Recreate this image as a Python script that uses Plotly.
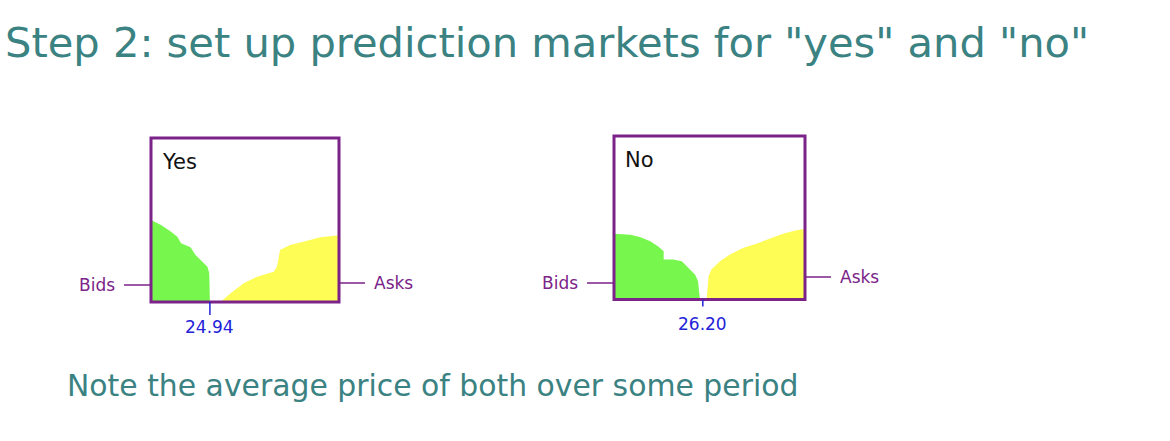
import plotly.graph_objects as go

W, H = 1170, 441

TITLE = 'Step 2: set up prediction markets for "yes" and "no"'
NOTE = "Note the average price of both over some period"

# order book depth for the "yes" market (price, cumulative size)
yes_bid_price = [24.00, 24.16, 24.32, 24.42, 24.48, 24.63, 24.71, 24.82, 24.90, 24.93, 24.94, 24.94]
yes_bid_depth = [50.0, 47.0, 42.9, 39.8, 35.8, 33.4, 28.7, 24.6, 21.5, 17.5, 4.0, 0.0]
yes_ask_price = [25.11, 25.27, 25.48, 25.69, 25.96, 26.01, 26.06, 26.22, 26.43, 26.70, 27.00]
yes_ask_depth = [0.0, 5.3, 11.4, 15.4, 18.5, 21.5, 31.7, 34.8, 36.8, 39.5, 40.7]
yes_avg = 24.94

# order book depth for the "no" market
no_bid_price = [25.27, 25.44, 25.54, 25.65, 25.73, 25.79, 25.79, 25.89, 25.98, 26.05, 26.12, 26.15, 26.17, 26.17]
no_bid_depth = [40.2, 39.6, 38.2, 35.6, 32.5, 29.5, 24.4, 24.4, 23.4, 19.3, 15.2, 11.2, 3.0, 0.0]
no_ask_price = [26.24, 26.25, 26.26, 26.29, 26.38, 26.48, 26.62, 26.76, 26.90, 27.04, 27.18, 27.27]
no_ask_depth = [0.0, 6.0, 14.2, 18.3, 23.4, 27.4, 31.5, 34.1, 37.0, 40.2, 42.3, 43.1]
no_avg = 26.20

TEAL = "#3b8282"
PURPLE = "#7b2389"
BLUE = "#2323d8"
GREEN = "#77f74d"
YELLOW = "#fdfd55"
FONT = "DejaVu Sans"


def px_x(x):
    return x / W


def px_y(y):
    return 1 - y / H


markets = [
    # box is (left, right, top, bottom) in screen px
    dict(name="Yes", bp=yes_bid_price, bd=yes_bid_depth, ap=yes_ask_price, ad=yes_ask_depth,
         avg=yes_avg, xr=[24.0, 27.0], box=(151, 339, 138, 302),
         bids_y=285, asks_y=283, tick_len=13, lab_y=327),
    dict(name="No", bp=no_bid_price, bd=no_bid_depth, ap=no_ask_price, ad=no_ask_depth,
         avg=no_avg, xr=[25.27, 27.27], box=(614, 805, 136, 299.5),
         bids_y=283, asks_y=277, tick_len=7, lab_y=323.5),
]

fig = go.Figure()
shapes, annotations = [], []

for i, m in enumerate(markets, start=1):
    xa = "x" if i == 1 else f"x{i}"
    ya = "y" if i == 1 else f"y{i}"
    left, right, top, bottom = m["box"]
    fig.add_trace(go.Scatter(x=m["bp"], y=m["bd"], xaxis=xa, yaxis=ya, mode="lines",
                             fill="tozeroy", fillcolor=GREEN, line=dict(width=0, color=GREEN),
                             hoverinfo="skip", showlegend=False))
    fig.add_trace(go.Scatter(x=m["ap"], y=m["ad"], xaxis=xa, yaxis=ya, mode="lines",
                             fill="tozeroy", fillcolor=YELLOW, line=dict(width=0, color=YELLOW),
                             hoverinfo="skip", showlegend=False))
    axis = dict(visible=False, fixedrange=True)
    fig.layout[f"xaxis{'' if i == 1 else i}"] = dict(
        axis, domain=[px_x(left), px_x(right)], range=m["xr"], anchor=ya)
    fig.layout[f"yaxis{'' if i == 1 else i}"] = dict(
        axis, domain=[px_y(bottom), px_y(top)], range=[0, 100], anchor=xa)

    bw, bh = right - left, bottom - top
    xd, yd = f"{xa} domain", f"{ya} domain"
    # frame
    shapes.append(dict(type="rect", xref=xd, yref=yd, x0=0, x1=1, y0=0, y1=1,
                       line=dict(color=PURPLE, width=3), layer="above"))
    # bids / asks pointers
    by = (bottom - m["bids_y"]) / bh
    ay = (bottom - m["asks_y"]) / bh
    shapes.append(dict(type="line", xref=xd, yref=yd, x0=-27 / bw, x1=0, y0=by, y1=by,
                       line=dict(color=PURPLE, width=1.5)))
    shapes.append(dict(type="line", xref=xd, yref=yd, x0=1, x1=1 + 26 / bw, y0=ay, y1=ay,
                       line=dict(color=PURPLE, width=1.5)))
    annotations.append(dict(xref=xd, yref=yd, x=-34 / bw, y=by, text="Bids", showarrow=False,
                            xanchor="right", yanchor="middle",
                            font=dict(family=FONT, size=17, color=PURPLE)))
    annotations.append(dict(xref=xd, yref=yd, x=1 + 33 / bw, y=ay, text="Asks", showarrow=False,
                            xanchor="left", yanchor="middle",
                            font=dict(family=FONT, size=17, color=PURPLE)))
    # average price tick
    shapes.append(dict(type="line", xref=xa, yref=yd, x0=m["avg"], x1=m["avg"],
                       y0=0, y1=-m["tick_len"] / bh, line=dict(color=BLUE, width=1.5)))
    annotations.append(dict(xref=xa, yref="paper", x=m["avg"], y=px_y(m["lab_y"]),
                            text=f"{m['avg']:.2f}", showarrow=False, xanchor="center",
                            yanchor="middle", font=dict(family=FONT, size=17, color=BLUE)))
    # market name
    annotations.append(dict(xref=xd, yref=yd, x=9 / bw, y=1 - 24 / bh, text=m["name"],
                            showarrow=False, xanchor="left", yanchor="middle",
                            font=dict(family=FONT, size=21, color="#111111")))

annotations.append(dict(xref="paper", yref="paper", x=px_x(3), y=px_y(42), text=TITLE,
                        showarrow=False, xanchor="left", yanchor="middle",
                        font=dict(family=FONT, size=41.6, color=TEAL)))
annotations.append(dict(xref="paper", yref="paper", x=px_x(65), y=px_y(385), text=NOTE,
                        showarrow=False, xanchor="left", yanchor="middle",
                        font=dict(family=FONT, size=29.85, color=TEAL)))

fig.update_layout(width=W, height=H, margin=dict(l=0, r=0, t=0, b=0),
                  paper_bgcolor="white", plot_bgcolor="white",
                  shapes=shapes, annotations=annotations, showlegend=False)

# drop the default 8px page margin so the figure sits at the window's corner
fig.write_html("out.html", config={"displayModeBar": False},
               post_script="document.body.style.margin = '0';")
